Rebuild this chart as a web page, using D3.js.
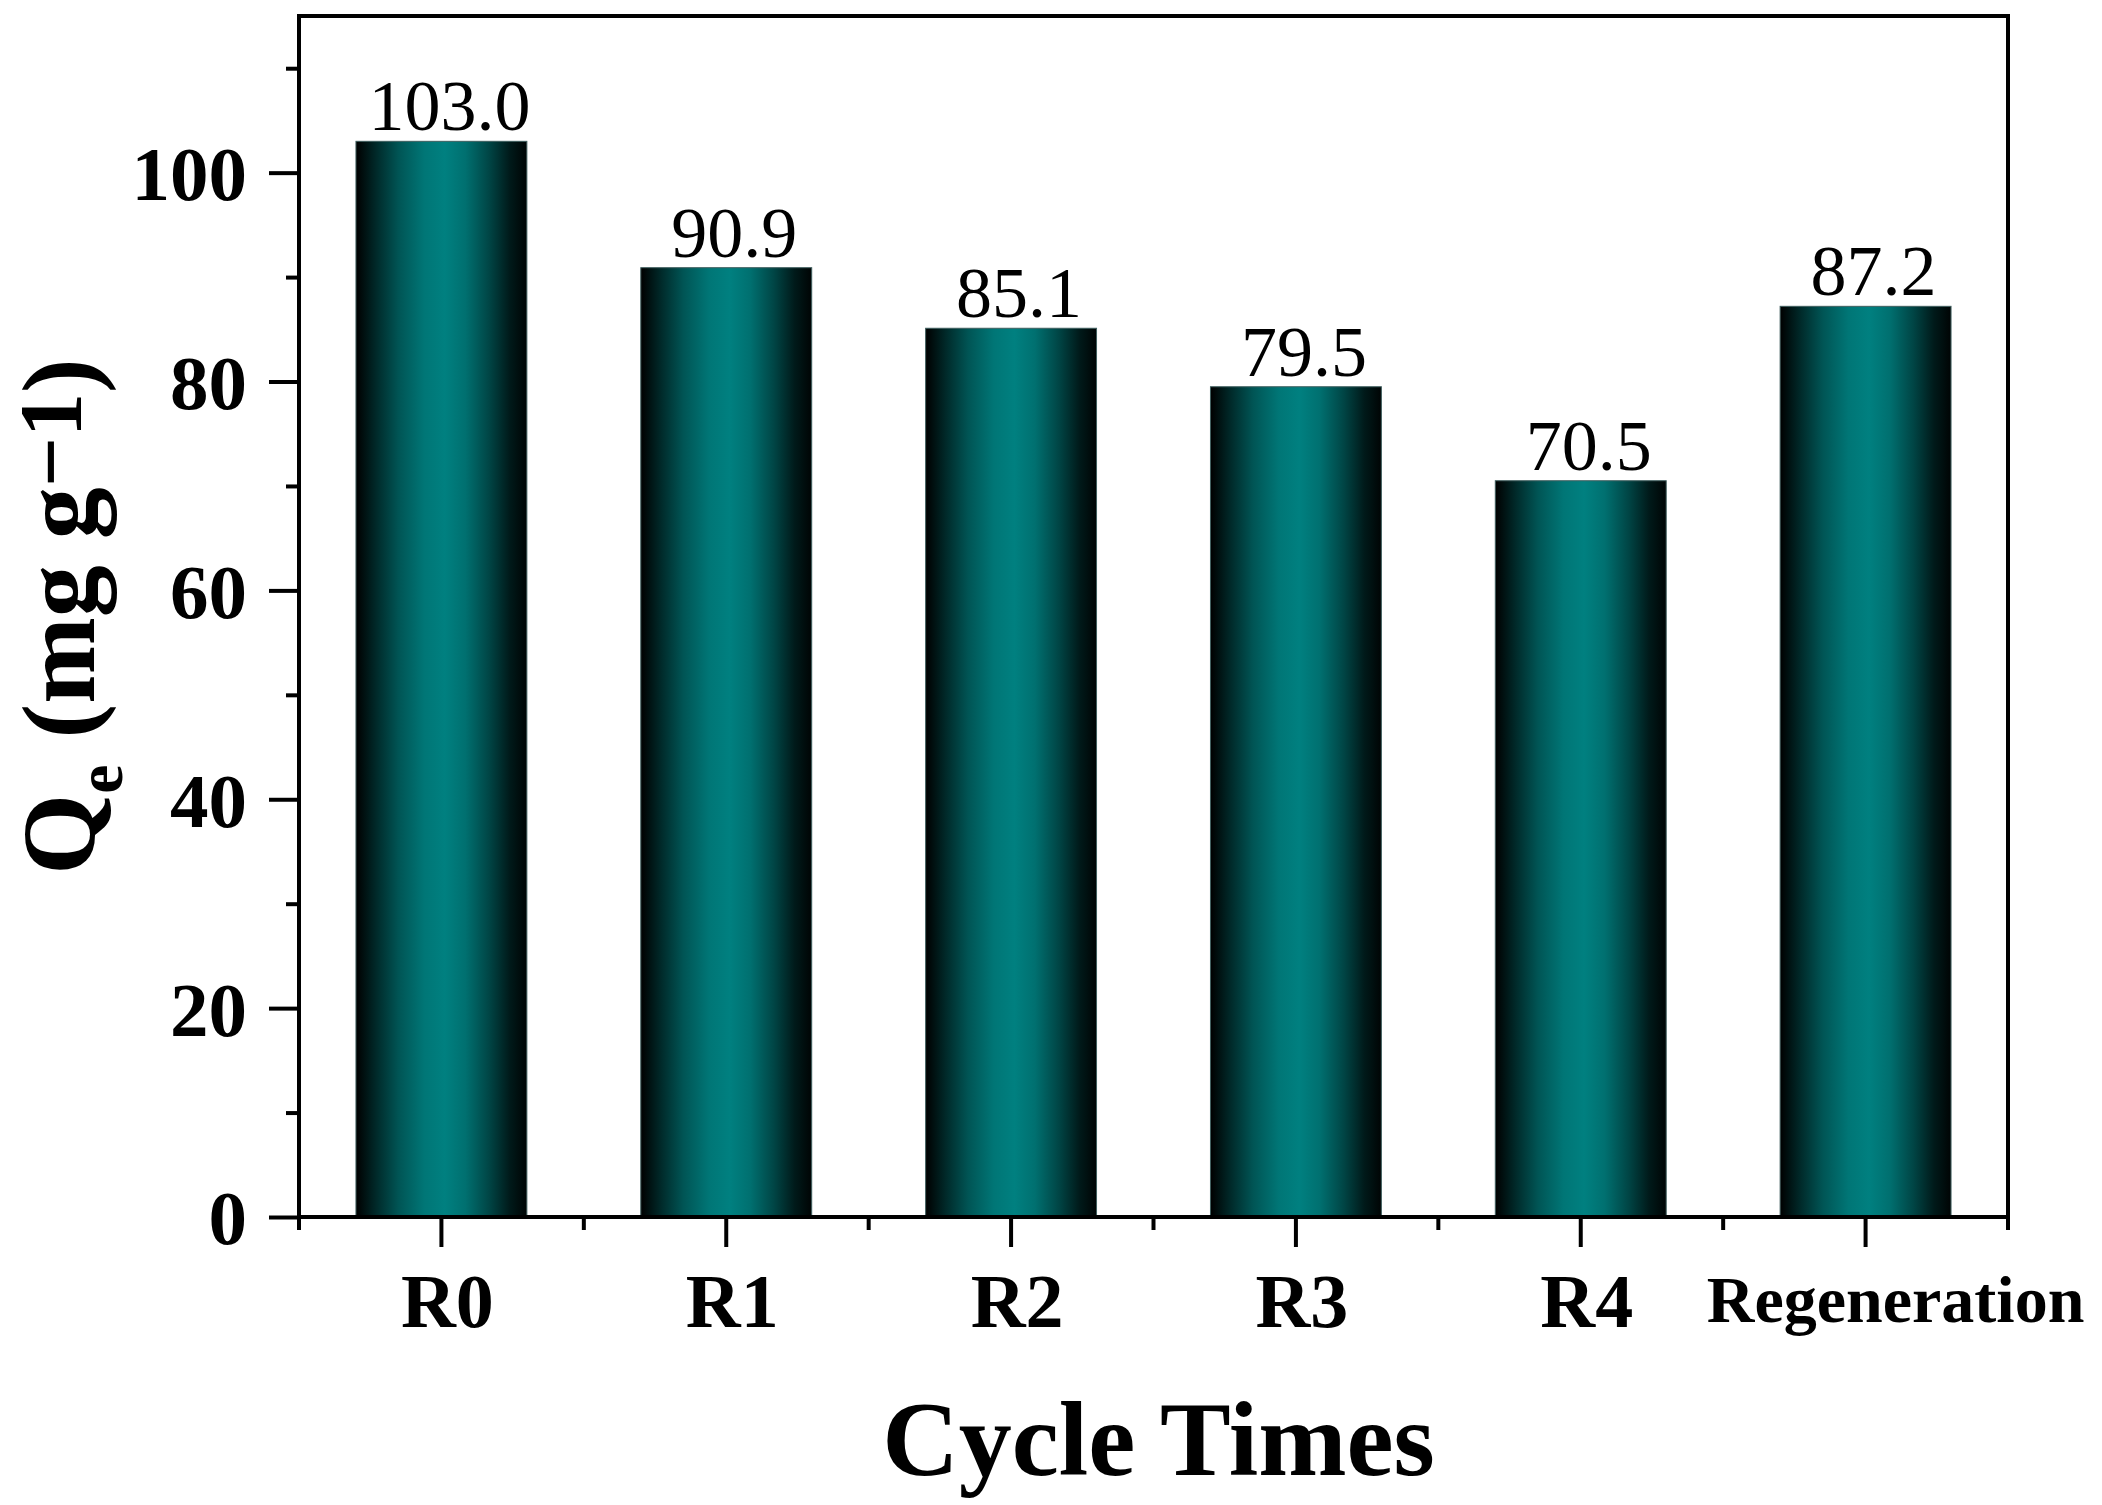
<!DOCTYPE html>
<html>
<head>
<meta charset="utf-8">
<script src="https://cdn.jsdelivr.net/npm/d3@7"></script>
<style>
  html, body { margin: 0; padding: 0; background: #fff; }
  svg { display: block; }
  text { font-family: "Liberation Serif", "Times New Roman", serif; fill: #000; }
</style>
</head>
<body>
<svg id="chart" width="2102" height="1505"></svg>
<script>
const categories = ["R0", "R1", "R2", "R3", "R4", "Regeneration"];
const values = [103.0, 90.9, 85.1, 79.5, 70.5, 87.2];
const yMajorTicks = [0, 20, 40, 60, 80, 100];
const yMinorTicks = [10, 30, 50, 70, 90, 110];
const yDomain = [0, 115];

const svg = d3.select("#chart");
const m = { left: 299, right: 2008, top: 16, bottom: 1217 };

const x = d3.scaleBand().domain(categories).range([m.left, m.right])
  .paddingInner(0.4).paddingOuter(0.2);
const y = d3.scaleLinear().domain(yDomain).range([m.bottom, m.top]);

// gradient
const defs = svg.append("defs");
const grad = defs.append("linearGradient").attr("id", "barGrad")
  .attr("x1", "0").attr("x2", "1").attr("y1", "0").attr("y2", "0");
[[0, "#000000"], [0.12, "#002a2a"], [0.25, "#005555"], [0.4, "#007676"],
 [0.52, "#008080"], [0.64, "#007070"], [0.78, "#004545"], [0.9, "#001a1a"], [1, "#000404"]]
  .forEach(([o, c]) => grad.append("stop").attr("offset", o).attr("stop-color", c));

// bars
svg.append("g").selectAll("rect").data(categories).join("rect")
  .attr("x", d => x(d))
  .attr("y", (d, i) => y(values[i]))
  .attr("width", x.bandwidth())
  .attr("height", (d, i) => y(0) - y(values[i]))
  .attr("fill", "url(#barGrad)")
  .attr("stroke", "#3f5e5e").attr("stroke-width", 1);

// value labels
svg.append("g").selectAll("text").data(categories).join("text")
  .attr("x", d => x(d) + x.bandwidth() / 2 + 8)
  .attr("y", (d, i) => y(values[i]) - 11)
  .attr("text-anchor", "middle")
  .attr("font-size", 72)
  .text((d, i) => d3.format(".1f")(values[i]));

// y axis major
const yAxis = svg.append("g").attr("transform", `translate(${m.left},0)`)
  .call(d3.axisLeft(y).tickValues(yMajorTicks).tickSize(30).tickPadding(22).tickFormat(d3.format("d")));
yAxis.select(".domain").remove();
yAxis.selectAll(".tick line").attr("stroke", "#000").attr("stroke-width", 4);
yAxis.selectAll(".tick text")
  .attr("font-family", "Liberation Serif, Times New Roman, serif")
  .attr("font-weight", "bold").attr("font-size", 77).attr("dy", "0.35em");

// y axis minor
const yMinor = svg.append("g").attr("transform", `translate(${m.left},0)`)
  .call(d3.axisLeft(y).tickValues(yMinorTicks).tickSize(13).tickFormat(""));
yMinor.select(".domain").remove();
yMinor.selectAll(".tick line").attr("stroke", "#000").attr("stroke-width", 4);

// x axis major
const xAxis = svg.append("g").attr("transform", `translate(0,${m.bottom})`)
  .call(d3.axisBottom(x).tickSize(30));
xAxis.select(".domain").remove();
xAxis.selectAll(".tick line").attr("stroke", "#000").attr("stroke-width", 4);
xAxis.selectAll(".tick text")
  .attr("font-family", "Liberation Serif, Times New Roman, serif")
  .attr("font-weight", "bold")
  .attr("dy", null)
  .attr("y", d => d === "Regeneration" ? 105 : 110)
  .attr("dx", d => d === "Regeneration" ? 30 : 6)
  .attr("font-size", d => d === "Regeneration" ? 66 : 76);

// x axis minor ticks at band boundaries
const step = x.step();
const boundaries = categories.map(c => x(c) + x.bandwidth() / 2 - step / 2)
  .concat([x(categories[categories.length - 1]) + x.bandwidth() / 2 + step / 2]);
svg.append("g").selectAll("line").data(boundaries).join("line")
  .attr("x1", d => d).attr("x2", d => d)
  .attr("y1", m.bottom).attr("y2", m.bottom + 13)
  .attr("stroke", "#000").attr("stroke-width", 4);

// frame
svg.append("rect")
  .attr("x", m.left).attr("y", m.top)
  .attr("width", m.right - m.left).attr("height", m.bottom - m.top)
  .attr("fill", "none").attr("stroke", "#000").attr("stroke-width", 4);

// x title
svg.append("text")
  .attr("x", (m.left + m.right) / 2 + 5).attr("y", 1475)
  .attr("text-anchor", "middle").attr("font-weight", "bold").attr("font-size", 106)
  .text("Cycle Times");

// y title
const yt = svg.append("text")
  .attr("transform", `translate(94,${(m.top + m.bottom) / 2}) rotate(-90)`)
  .attr("text-anchor", "middle").attr("font-weight", "bold").attr("font-size", 104);
yt.append("tspan").text("Q");
yt.append("tspan").attr("font-size", 66).attr("dy", 28).text("e");
yt.append("tspan").attr("dy", -28).text(" (mg g");
yt.append("tspan").attr("font-size", 88).attr("dy", -14).text("\u22121");
yt.append("tspan").attr("dy", 14).text(")");
</script>
</body>
</html>
